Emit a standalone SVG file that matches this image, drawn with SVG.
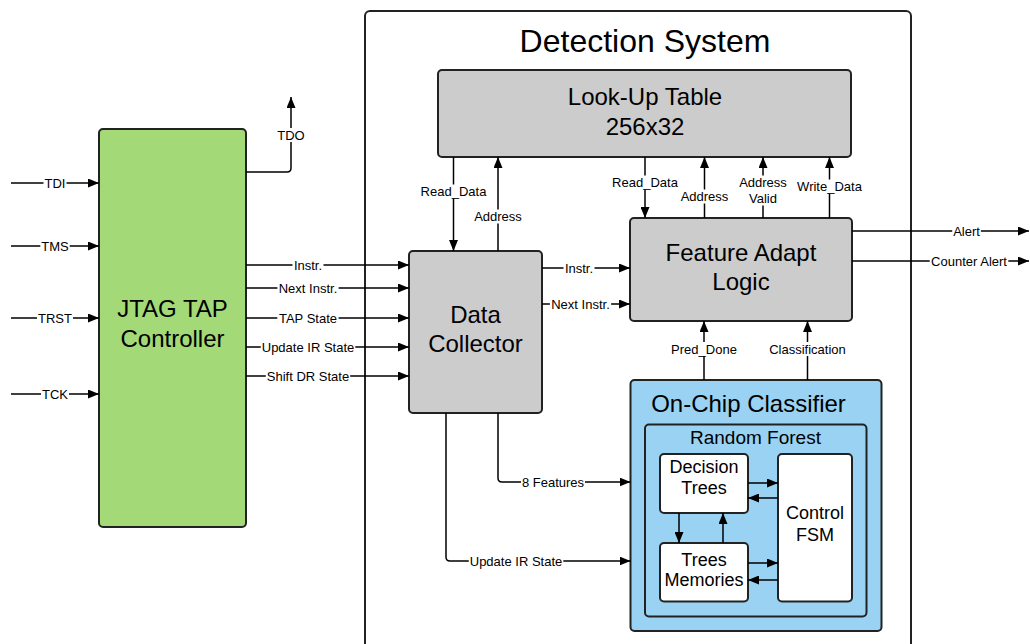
<svg xmlns="http://www.w3.org/2000/svg" width="1030" height="644" viewBox="0 0 1030 644">
<style>
text{font-family:"Liberation Sans",Arial,sans-serif;fill:#000;text-anchor:middle;dominant-baseline:central}
.box{stroke:#222;stroke-width:2}
.gray{fill:#cccccc}
.white{fill:#ffffff}
.big{font-size:24px}
.mid{font-size:18px}
.rf{font-size:19px}
.lbl{font-size:13px}
.c{fill:none;stroke:#000;stroke-width:1.5}
.bg{fill:#ffffff}
</style>
<defs>
<marker id="ah" markerUnits="userSpaceOnUse" markerWidth="11" markerHeight="9" refX="11" refY="4.5" orient="auto"><path d="M0,0 L11,4.5 L0,9 z" fill="#000"/></marker>
</defs>
<rect x="0" y="0" width="1030" height="644" fill="#ffffff"/>

<g id="detection-system">
<rect class="box white" x="365" y="11" width="546" height="660" rx="5"/>
<text x="645" y="41" style="font-size:32px">Detection System</text>
</g>

<g id="jtag-tap-controller">
<rect class="box" x="99" y="129" width="147" height="398" rx="4" fill="#a3d977"/>
<text class="big" x="172.5" y="308">JTAG TAP</text>
<text class="big" x="172.5" y="338">Controller</text>
</g>

<g id="look-up-table">
<rect class="box gray" x="438" y="70" width="413" height="87" rx="4"/>
<text class="big" x="645" y="96.5">Look-Up Table</text>
<text class="big" x="645" y="126">256x32</text>
</g>

<g id="data-collector">
<rect class="box gray" x="409" y="251" width="133" height="162" rx="4"/>
<text class="big" x="475.5" y="314">Data</text>
<text class="big" x="475.5" y="343">Collector</text>
</g>

<g id="feature-adapt-logic">
<rect class="box gray" x="630" y="218" width="222" height="103" rx="4"/>
<text class="big" x="741" y="252">Feature Adapt</text>
<text class="big" x="741" y="281">Logic</text>
</g>

<g id="on-chip-classifier">
<rect class="box" x="630.5" y="380" width="251" height="251" rx="4" fill="#99d2f2"/>
<text class="big" x="748.5" y="403.5">On-Chip Classifier</text>
</g>

<g id="random-forest">
<rect class="box" x="645" y="424.5" width="221.5" height="192" rx="4" fill="#99d2f2"/>
<text class="rf" x="755.5" y="437">Random Forest</text>
</g>

<g id="decision-trees">
<rect class="box white" x="660" y="454" width="88" height="59" rx="4"/>
<text class="mid" x="704" y="466.5">Decision</text>
<text class="mid" x="704" y="487.5">Trees</text>
</g>

<g id="trees-memories">
<rect class="box white" x="660" y="543" width="88" height="58.5" rx="4"/>
<text class="mid" x="704" y="559.5">Trees</text>
<text class="mid" x="704" y="579.5">Memories</text>
</g>

<g id="control-fsm">
<rect class="box white" x="778" y="454" width="74" height="147.5" rx="4"/>
<text class="mid" x="815" y="513">Control</text>
<text class="mid" x="815" y="534.5">FSM</text>
</g>

<g id="connectors">
<!-- JTAG inputs -->
<path class="c" d="M11,183 H99" marker-end="url(#ah)"/>
<path class="c" d="M11,246 H99" marker-end="url(#ah)"/>
<path class="c" d="M11,318 H99" marker-end="url(#ah)"/>
<path class="c" d="M11,394 H99" marker-end="url(#ah)"/>
<path class="c" d="M246,172 H287 Q291,172 291,168 V97" marker-end="url(#ah)"/>
<!-- JTAG to Data Collector -->
<path class="c" d="M246,265 H409" marker-end="url(#ah)"/>
<path class="c" d="M246,288 H409" marker-end="url(#ah)"/>
<path class="c" d="M246,318 H409" marker-end="url(#ah)"/>
<path class="c" d="M246,347 H409" marker-end="url(#ah)"/>
<path class="c" d="M246,376 H409" marker-end="url(#ah)"/>
<!-- LUT <-> Data Collector -->
<path class="c" d="M453.5,157 V251" marker-end="url(#ah)"/>
<path class="c" d="M498,251 V157" marker-end="url(#ah)"/>
<!-- LUT <-> FAL -->
<path class="c" d="M645,157 V218" marker-end="url(#ah)"/>
<path class="c" d="M704.5,218 V157" marker-end="url(#ah)"/>
<path class="c" d="M763,218 V157" marker-end="url(#ah)"/>
<path class="c" d="M829.5,218 V157" marker-end="url(#ah)"/>
<!-- DC to FAL -->
<path class="c" d="M542,268 H630" marker-end="url(#ah)"/>
<path class="c" d="M542,304 H630" marker-end="url(#ah)"/>
<!-- FAL outputs -->
<path class="c" d="M852,231 H1029" marker-end="url(#ah)"/>
<path class="c" d="M852,261 H1029" marker-end="url(#ah)"/>
<!-- Classifier to FAL -->
<path class="c" d="M704,380 V321" marker-end="url(#ah)"/>
<path class="c" d="M807.5,380 V321" marker-end="url(#ah)"/>
<!-- DC to Classifier -->
<path class="c" d="M498,413 V478 Q498,482 502,482 H630.5" marker-end="url(#ah)"/>
<path class="c" d="M446,413 V557 Q446,561 450,561 H630.5" marker-end="url(#ah)"/>
<!-- inside Random Forest -->
<path class="c" d="M748,483 H778" marker-end="url(#ah)"/>
<path class="c" d="M778,498 H748" marker-end="url(#ah)"/>
<path class="c" d="M748,563 H778" marker-end="url(#ah)"/>
<path class="c" d="M778,580 H748" marker-end="url(#ah)"/>
<path class="c" d="M679,513 V543" marker-end="url(#ah)"/>
<path class="c" d="M723,543 V513" marker-end="url(#ah)"/>

<!-- labels -->
<rect class="bg" x="43.5" y="176" width="23" height="14"/><text class="lbl" x="55" y="183">TDI</text>
<rect class="bg" x="40.3" y="239" width="29.4" height="14"/><text class="lbl" x="55" y="246">TMS</text>
<rect class="bg" x="37" y="311" width="36" height="14"/><text class="lbl" x="55" y="318">TRST</text>
<rect class="bg" x="41" y="387" width="28" height="14"/><text class="lbl" x="55" y="394">TCK</text>
<rect class="bg" x="276.3" y="128" width="29.4" height="14"/><text class="lbl" x="291" y="135">TDO</text>

<rect class="bg" x="292.5" y="258" width="31" height="14"/><text class="lbl" x="308" y="265">Instr.</text>
<rect class="bg" x="277.4" y="281" width="61.2" height="14"/><text class="lbl" x="308" y="288">Next Instr.</text>
<rect class="bg" x="277.3" y="311" width="61.3" height="14"/><text class="lbl" x="308" y="318">TAP State</text>
<rect class="bg" x="260.8" y="340" width="94.5" height="14"/><text class="lbl" x="308" y="347">Update IR State</text>
<rect class="bg" x="265.8" y="369" width="84.4" height="14"/><text class="lbl" x="308" y="376">Shift DR State</text>

<rect class="bg" x="419.6" y="184.5" width="67.8" height="14"/><text class="lbl" x="453.5" y="191.5">Read_Data</text>
<rect class="bg" x="473.2" y="209.5" width="49.7" height="14"/><text class="lbl" x="498" y="216.5">Address</text>

<rect class="bg" x="611.1" y="175.5" width="67.8" height="14"/><text class="lbl" x="645" y="182.5">Read_Data</text>
<rect class="bg" x="679.7" y="189.5" width="49.7" height="14"/><text class="lbl" x="704.5" y="196.5">Address</text>
<rect class="bg" x="738.2" y="175.5" width="49.7" height="30"/><text class="lbl" x="763" y="182.5">Address</text><text class="lbl" x="763" y="198">Valid</text>
<rect class="bg" x="796" y="179.5" width="67" height="14"/><text class="lbl" x="829.5" y="186.5">Write_Data</text>

<rect class="bg" x="563.5" y="261" width="31" height="14"/><text class="lbl" x="579" y="268">Instr.</text>
<rect class="bg" x="549.9" y="297" width="61.2" height="14"/><text class="lbl" x="580.5" y="304">Next Instr.</text>

<rect class="bg" x="952.2" y="224" width="28.7" height="14"/><text class="lbl" x="966.5" y="231">Alert</text>
<rect class="bg" x="929.7" y="254" width="78.6" height="14"/><text class="lbl" x="969" y="261">Counter Alert</text>

<rect class="bg" x="670.1" y="342" width="67.8" height="14"/><text class="lbl" x="704" y="349">Pred_Done</text>
<rect class="bg" x="768.2" y="342" width="78.6" height="14"/><text class="lbl" x="807.5" y="349">Classification</text>

<rect class="bg" x="521" y="475" width="64" height="14"/><text class="lbl" x="553" y="482">8 Features</text>
<rect class="bg" x="468.8" y="554" width="94.5" height="14"/><text class="lbl" x="516" y="561">Update IR State</text>
</g>
</svg>
